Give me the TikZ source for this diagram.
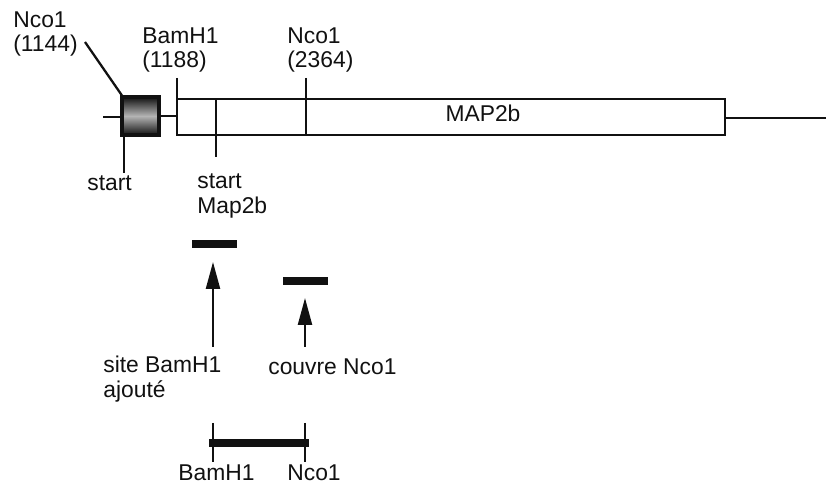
\documentclass[tikz,border=0pt]{standalone}
\usepackage{fontspec}
\setmainfont{Liberation Sans}
\usetikzlibrary{arrows.meta,calc}
\definecolor{ink}{HTML}{111111}
\definecolor{stipple}{HTML}{B4B4B4}

\tikzset{
  dna/.style={ink,line width=1.3pt},
  tick/.style={ink,line width=1.6pt},
  probe/.style={fill=ink,inner sep=0pt,minimum height=8*0.02cm},
  label/.style={ink,inner sep=0pt,anchor=west,align=left},
  pointer/.style={ink,line width=1.3pt,-{Triangle[length=5.4mm,width=2.8mm]}}
}

\begin{document}
\begin{tikzpicture}[x=0.02cm,y=-0.02cm,line cap=butt,line join=miter,
    font=\fontsize{13}{14}\selectfont]
  \useasboundingbox (0,0) rectangle (826,486);
  \coordinate (L) at (103,117);
  \coordinate (R) at (826,118);

  % gene map
  \draw[dna] (L) -- (122,117);
  \shade[top color=ink,bottom color=ink,middle color=stipple] (122,97) rectangle (159,135);
  \draw[ink,line width=1.8pt] (122,97) rectangle (159,135);
  \draw[dna] (159,116) -- (177,116);
  \draw[dna] (177,99) rectangle (725,135);
  \draw[dna] (725,118) -- (R);
  \node[ink] (map) at (483,113) {MAP2b};

  % sites on the map
  \draw[tick] (177,78) -- (177,99);
  \draw[tick] (306,78) -- (306,135);
  \draw[tick] (124,135) -- (124,173);
  \draw[tick] (216,99) -- (216,157);

  \node[label] (nco1) at (13,34) {Nco1\\(1144)};
  \node[label] (bam1) at (142,50) {BamH1\\(1188)};
  \node[label] (nco2) at (287,50) {Nco1\\(2364)};
  \node[label] (st1) at (87,183) {start};
  \node[label] (st2) at (197,196) {start\\Map2b};
  \draw[dna] (85,42) -- (123,97);

  % probes
  \node[probe,minimum width=45*0.02cm] (pA) at (214.5,244) {};
  \node[probe,minimum width=45*0.02cm] (pB) at (305.5,281) {};
  \node[label] (siteB) at (103,379) {site BamH1\\ajout\'e};
  \node[label] (cover) at (268,367) {couvre Nco1};
  \coordinate (aA) at (213,347);
  \coordinate (aB) at (305,347);
  \draw[pointer] (aA) -- (aA |- 0,262);
  \draw[pointer] (aB) -- (aB |- 0,298);

  % fragment
  \draw[ink,line width=4.8pt] (209,443) -- (309,443);
  \draw[tick] (213,423) -- (213,462);
  \draw[tick] (305,423) -- (305,462);
  \node[label] (fb) at (178,473) {BamH1};
  \node[label] (fn) at (287,473) {Nco1};
\end{tikzpicture}
\end{document}
